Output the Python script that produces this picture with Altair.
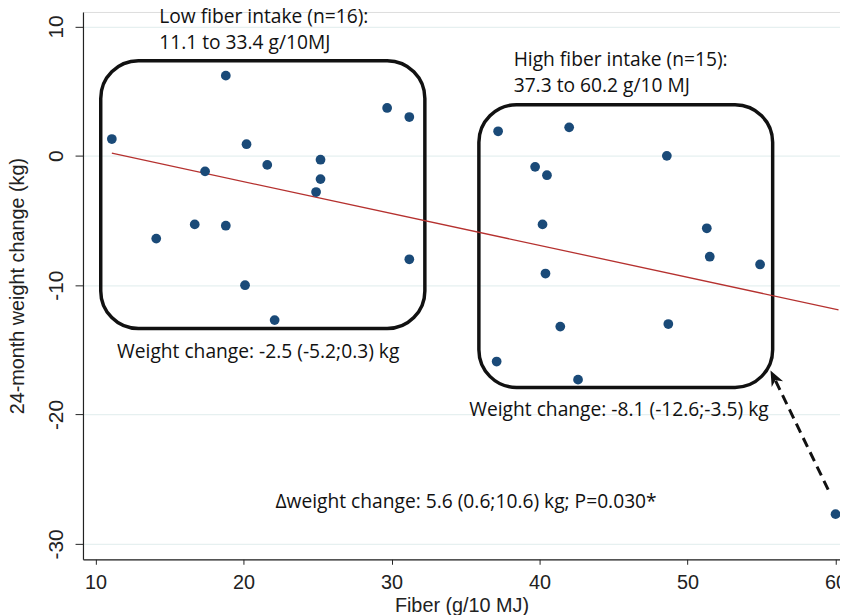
import altair as alt
import pandas as pd

# Low fiber group
low_x = [11.1, 18.8, 29.7, 31.2, 20.2, 21.6, 17.4, 25.2, 25.2, 24.9, 16.7, 18.8, 14.1, 31.2, 20.1, 22.1]
low_y = [1.3, 6.2, 3.7, 3.0, 0.9, -0.7, -1.2, -0.3, -1.8, -2.8, -5.3, -5.4, -6.4, -8.0, -10.0, -12.7]
# High fiber group
high_x = [37.2, 42.0, 48.6, 39.7, 40.5, 40.2, 51.3, 51.5, 54.9, 40.4, 41.4, 48.7, 37.1, 42.6, 60.0]
high_y = [1.9, 2.2, 0.0, -0.85, -1.5, -5.3, -5.6, -7.8, -8.4, -9.1, -13.2, -13.0, -15.9, -17.3, -27.7]

# Fitted regression line
fit_x = [11.1, 60.2]
fit_y = [0.2, -11.9]

# Group boxes (data units)
box_x1 = [10.35, 35.9]
box_x2 = [32.25, 55.75]
box_y1 = [7.35, 3.95]
box_y2 = [-13.35, -17.9]

# Annotations
ann_text = [
    "Low fiber intake (n=16):",
    "11.1 to 33.4 g/10MJ",
    "High fiber intake (n=15):",
    "37.3 to 60.2 g/10 MJ",
    "Weight change: -2.5 (-5.2;0.3) kg",
    "Weight change: -8.1 (-12.6;-3.5) kg",
    "\u0394weight change: 5.6 (0.6;10.6) kg; P=0.030*",
]
ann_x = [14.3, 14.3, 38.25, 38.25, 11.45, 35.25, 22.15]
ann_y = [10.7, 8.75, 7.4, 5.4, -15.15, -19.65, -26.75]

# Dashed arrow
arrow_x = [59.5, 55.95]
arrow_y = [-25.8, -17.4]
head_x = [55.85]
head_y = [-17.15]

xdom = [9.15, 60.3]
ydom = [-31.19, 11.12]

X = alt.X("x:Q", scale=alt.Scale(domain=xdom, nice=False, zero=False),
          axis=alt.Axis(values=[10, 20, 30, 40, 50, 60], title="Fiber (g/10 MJ)", grid=False,
                        labelFont="Liberation Sans", labelFontSize=20, labelColor="#222",
                        titleFont="Liberation Sans", titleFontSize=20, titleFontWeight="normal",
                        titleColor="#222", tickSize=5, tickColor="#222", domainColor="#222",
                        labelPadding=8.5, titlePadding=3, domainWidth=1.2))
Y = alt.Y("y:Q", scale=alt.Scale(domain=ydom, nice=False, zero=False),
          axis=alt.Axis(values=[10, 0, -10, -20, -30], title="24-month weight change (kg)",
                        grid=True, gridColor="#e6f0f0", gridWidth=1.2,
                        labelExpr="'' + datum.value",
                        labelFont="Liberation Sans", labelFontSize=21, labelColor="#222",
                        labelAngle=-90, labelAlign="center", labelBaseline="bottom",
                        titleFont="Liberation Sans", titleFontSize=20, titleFontWeight="normal",
                        titleColor="#222", tickSize=8, tickColor="#222", domainColor="#222",
                        labelPadding=9, titlePadding=18, domainWidth=1.2))

pts = pd.DataFrame({"x": low_x + high_x, "y": low_y + high_y})
fit = pd.DataFrame({"x": fit_x, "y": fit_y})
boxes = pd.DataFrame({"x": box_x1, "x2": box_x2, "y": box_y1, "y2": box_y2})
ann = pd.DataFrame({"x": ann_x, "y": ann_y, "t": ann_text})
arr = pd.DataFrame({"x": arrow_x, "y": arrow_y})
head = pd.DataFrame({"x": head_x, "y": head_y})

base_grid = alt.Chart(pts).mark_point(opacity=0).encode(x=X, y=Y)

box_layer = alt.Chart(boxes).mark_rect(
    fill="white", fillOpacity=0, stroke="#111", strokeWidth=3.5, cornerRadius=38
).encode(x="x:Q", x2="x2:Q", y="y:Q", y2="y2:Q")

fit_layer = alt.Chart(fit).mark_line(color="#b5312f", strokeWidth=1.3).encode(x="x:Q", y="y:Q")

pt_layer = alt.Chart(pts).mark_circle(size=97, color="#1a4a78", opacity=1).encode(x="x:Q", y="y:Q")

ann_layer = alt.Chart(ann).mark_text(
    align="left", baseline="middle", font="Open Sans", fontSize=19.4, color="#111"
).encode(x="x:Q", y="y:Q", text="t:N")

arr_layer = alt.Chart(arr).mark_line(color="#111", strokeWidth=3, strokeDash=[10, 6]).encode(
    x="x:Q", y="y:Q")

head_layer = alt.Chart(head).mark_point(
    shape="M 0 -1 L 0.8 0.9 L 0 0.35 L -0.8 0.9 Z", filled=True, color="#111",
    size=260, angle=333, opacity=1
).encode(x="x:Q", y="y:Q")

chart = alt.layer(base_grid, box_layer, fit_layer, pt_layer, ann_layer, arr_layer, head_layer).properties(
    width=764.3, height=552.6,
    padding={"left": 75.7, "top": 1.1, "right": 0, "bottom": 53.3},
    autosize=alt.AutoSizeParams(type="none"),
).configure_view(stroke=None).configure(background="white")

chart.save("out.html", embed_options={"renderer": "svg", "actions": False})
